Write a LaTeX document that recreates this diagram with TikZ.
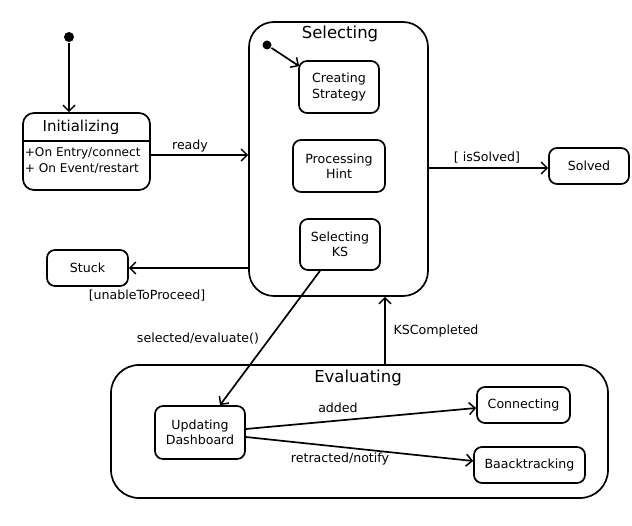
\documentclass[tikz,border=0pt]{standalone}
\usepackage{fontspec}
\setmainfont{DejaVu Sans}
\usetikzlibrary{arrows.meta,calc}
\begin{document}
\begin{tikzpicture}[x=1pt,y=-1pt,
  line width=1.7pt,
  small/.style={font=\fontsize{12.6}{15.5}\selectfont},
  state/.style={draw,rounded corners=8pt,small,align=center,inner sep=0pt},
  arr/.style={-{Straight Barb[length=6pt,width=12pt,line width=1.5pt]}},
  lbl/.style={small,inner sep=0pt},
  title/.style={font=\fontsize{16.5}{19}\selectfont,inner sep=0pt},
  dot/.style={circle,fill,inner sep=0pt,minimum size=#1}]
\useasboundingbox (0,0) rectangle (632,526);
% top-level initial
\node[dot=10pt] (start) at (69,37) {};
% Initializing
\node[draw,rounded corners=11pt,minimum width=127pt,minimum height=77pt,inner sep=0pt] (init) at (86.5,151.5) {};
\node[font=\fontsize{15}{18}\selectfont,inner sep=0pt] (inittitle) at (81,127.5) {Initializing};
\draw[line width=1.4pt] (init.west |- 0,141) -- (init.east |- 0,141);
\node[lbl,align=left,anchor=west,font=\fontsize{12.1}{16}\selectfont] (initacts) at (24,161) {+On Entry/connect\\+ On Event/restart};
% Selecting composite
\node[draw,rounded corners=25pt,minimum width=179pt,minimum height=274pt,inner sep=0pt] (sel) at (338.5,159) {};
\node[title] (seltitle) at (340,33.5) {Selecting};
\node[dot=9pt] (selstart) at (267,45) {};
\node[state,minimum width=80pt,minimum height=52pt] (cs) at (339,87) {Creating\\Strategy};
\node[state,minimum width=92pt,minimum height=52pt] (ph) at (339,166) {Processing\\Hint};
\node[state,minimum width=80pt,minimum height=51pt] (ks) at (340,244.5) {Selecting\\KS};
% Solved, Stuck
\node[state,minimum width=80pt,minimum height=36pt] (solved) at (589,166) {Solved};
\node[state,minimum width=81pt,minimum height=36pt] (stuck) at (87.5,268) {Stuck};
% Evaluating composite
\node[draw,rounded corners=28pt,minimum width=497pt,minimum height=133pt,inner sep=0pt] (eval) at (359.5,431.5) {};
\node[title] (evaltitle) at (358,378) {Evaluating};
\node[state,minimum width=90pt,minimum height=53pt] (upd) at (200,432.5) {Updating\\Dashboard};
\node[state,minimum width=93pt,minimum height=36pt] (conn) at (523.5,405) {Connecting};
\node[state,minimum width=111pt,minimum height=36pt] (back) at (529.5,465) {Baacktracking};
% transitions
\draw[arr] (start) -- (start |- init.north);
\draw[arr] ([yshift=-3.5pt]init.east) -- ([yshift=-3.5pt]init.east -| sel.west);
\node[lbl] (lready) at (190,146) {ready};
\draw[arr] (selstart) -- ([xshift=1pt,yshift=-6pt]cs.north west);
\draw[arr] ([yshift=-2pt]solved.west -| sel.east) -- ([yshift=-2pt]solved.west);
\node[lbl] (lsolved) at (487,158) {[ isSolved]};
\draw[arr] (stuck.east -| sel.west) -- (stuck.east);
\node[lbl] (lstuck) at (147,296) {[unableToProceed]};
\draw[arr] ([xshift=-20pt]ks.south) -- ([xshift=20pt]upd.north);
\node[lbl] (lsel) at (198,339) {selected/evaluate()};
\draw[arr] ([xshift=25.5pt]eval.north) -- ([xshift=25.5pt]eval.north |- sel.south);
\node[lbl] (lks) at (436,331) {KSCompleted};
\draw[arr] ([yshift=3.5pt]upd.east) -- ([yshift=-3pt]conn.west);
\node[lbl] (ladded) at (338,408) {added};
\draw[arr] ([yshift=-4.5pt]upd.east) -- ([yshift=4pt]back.west);
\node[lbl] (lretr) at (340,459) {retracted/notify};
\end{tikzpicture}
\end{document}
